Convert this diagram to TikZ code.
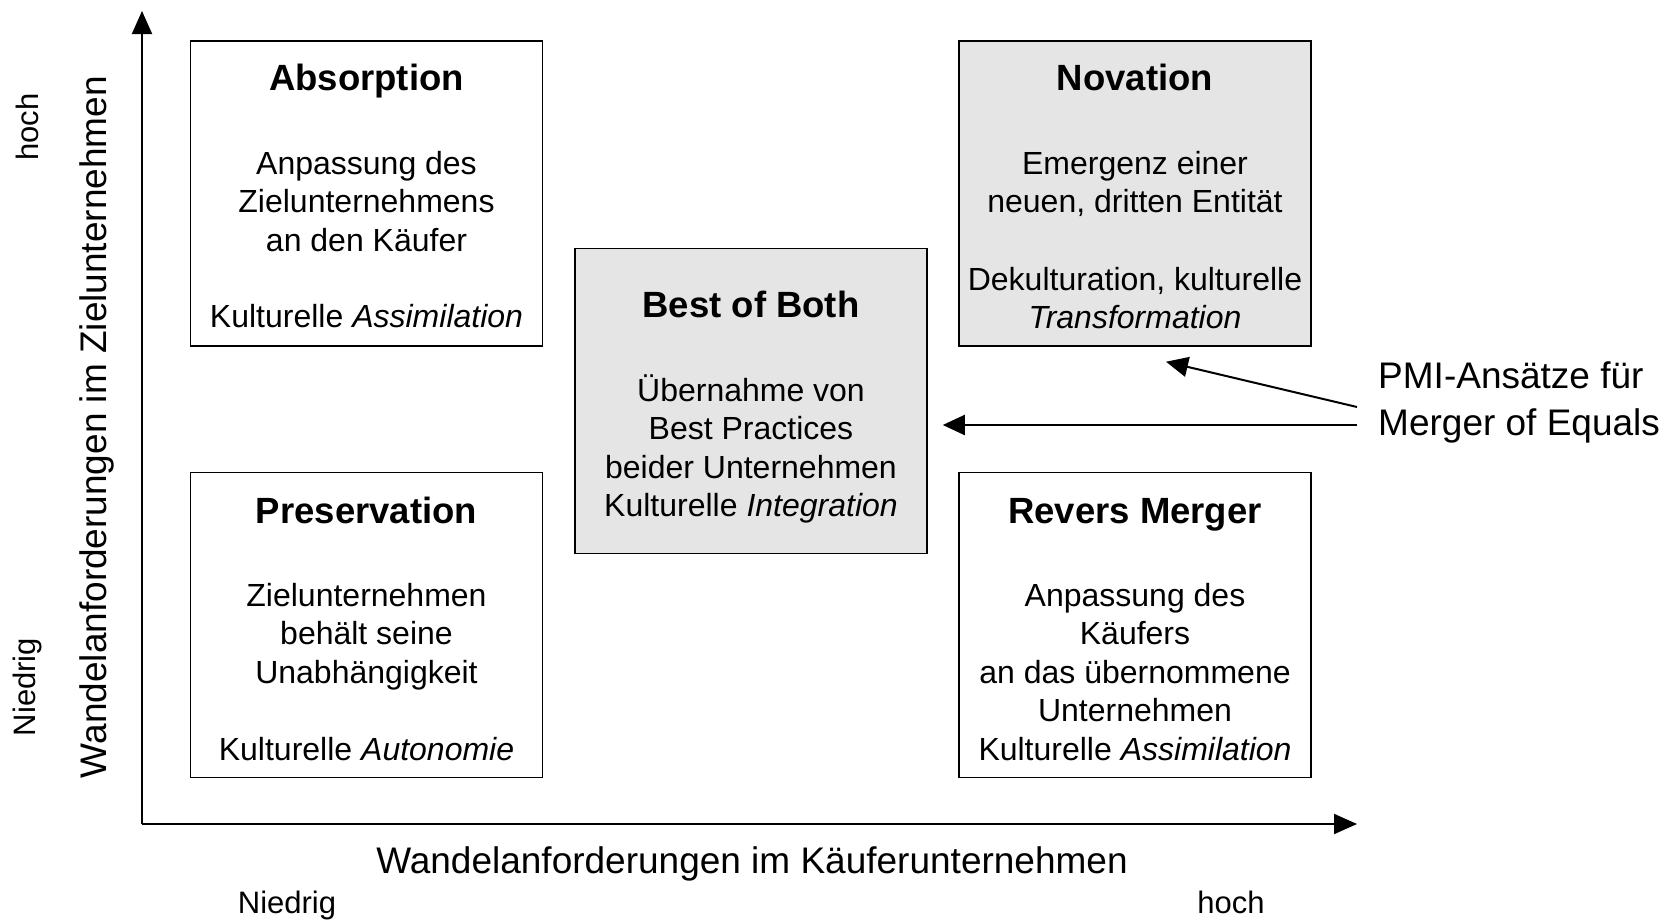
\documentclass[tikz,border=0pt]{standalone}
\usepackage{fontspec}
\setmainfont{Liberation Sans}
\usetikzlibrary{positioning,arrows.meta}

\tikzset{
  feld/.style={draw, line width=1.5bp, minimum width=352bp, minimum height=305bp, inner sep=0pt},
  grau/.style={fill=black!10},
  titel/.style={font=\fontsize{36.5bp}{44bp}\selectfont\bfseries, inner sep=0pt, text height=26bp, text depth=0bp},
  inhalt/.style={font=\fontsize{32bp}{38.5bp}\selectfont, align=center, inner sep=0pt},
  achslabel/.style={font=\fontsize{37bp}{47bp}\selectfont, inner sep=0pt},
  stufe/.style={font=\fontsize{31bp}{37bp}\selectfont, inner sep=0pt},
  achse/.style={line width=2bp, -{Triangle[length=23bp,width=20bp]}},
  pfeil/.style={line width=2bp, -{Triangle[length=22bp,width=20bp]}},
}

\begin{document}
\begin{tikzpicture}[x=1bp,y=-1bp]
\useasboundingbox (0,0) rectangle (1678,919);

% Achsen
\coordinate (o) at (142,824);
\coordinate (ytop) at (142,11);
\coordinate (xend) at (1357,824);
\draw[achse] (o) -- (ytop);
\draw[achse] (o) -- (xend);

\node[achslabel] (xlab) at (752,863.5) {Wandelanforderungen im Käuferunternehmen};
\node[achslabel, rotate=90] (ylab) at (97,427) {Wandelanforderungen im Zielunternehmen};
\node[stufe] (xlow) at (287,905) {Niedrig};
\node[stufe] (xhigh) at (1231,902) {hoch};
\node[stufe, rotate=90] (ylow) at (27,687) {Niedrig};
\node[stufe, rotate=90] (yhigh) at (27,127) {hoch};

% Felder
\node[feld] (abs) at (366.5,193.5) {};
\node[feld, grau] (nov) at (1135,193.5) {};
\node[feld, grau] (bob) at (751,401) {};
\node[feld] (pres) at (366.5,625) {};
\node[feld] (rev) at (1135,625) {};

\node[titel] at ([yshift=-37.5bp]abs.north) {Absorption};
\node[inhalt] at ([yshift=-161bp]abs.north) {Anpassung des\\Zielunternehmens\\an den Käufer};
\node[inhalt] at ([yshift=-276bp]abs.north) {Kulturelle \textit{Assimilation}};

\node[titel] at ([yshift=-37.5bp]nov.north) {Novation};
\node[inhalt] at ([yshift=-143.5bp]nov.north) {Emergenz einer\\neuen, dritten Entität};
\node[inhalt] at ([yshift=-258bp]nov.north) {Dekulturation, kulturelle\\\textit{Transformation}};

\node[titel] at ([yshift=-57bp]bob.north) {Best of Both};
\node[inhalt] at ([yshift=-201bp]bob.north) {Übernahme von\\Best Practices\\beider Unternehmen\\Kulturelle \textit{Integration}};

\node[titel] at ([yshift=-38.5bp]pres.north) {Preservation};
\node[inhalt] at ([yshift=-164.5bp]pres.north) {Zielunternehmen\\behält seine\\Unabhängigkeit};
\node[inhalt] at ([yshift=-277bp]pres.north) {Kulturelle \textit{Autonomie}};

\node[titel] at ([yshift=-38.5bp]rev.north) {Revers Merger};
\node[inhalt] at ([yshift=-200bp]rev.north) {Anpassung des\\Käufers\\an das übernommene\\Unternehmen\\Kulturelle \textit{Assimilation}};

% PMI-Ansaetze
\node[achslabel, align=left, anchor=west] (pmi) at (1378,402) {PMI-Ansätze für\\Merger of Equals};
\coordinate (m1) at ([xshift=-21bp,yshift=-5bp]pmi.west);
\coordinate (m2) at ([xshift=-21bp,yshift=-23bp]pmi.west);
\coordinate (z2) at (m2 -| bob.east);
\draw[pfeil] (m1) -- ([xshift=31bp,yshift=-15bp]nov.south);
\draw[pfeil] (m2) -- ([xshift=15bp]z2);
\end{tikzpicture}
\end{document}
